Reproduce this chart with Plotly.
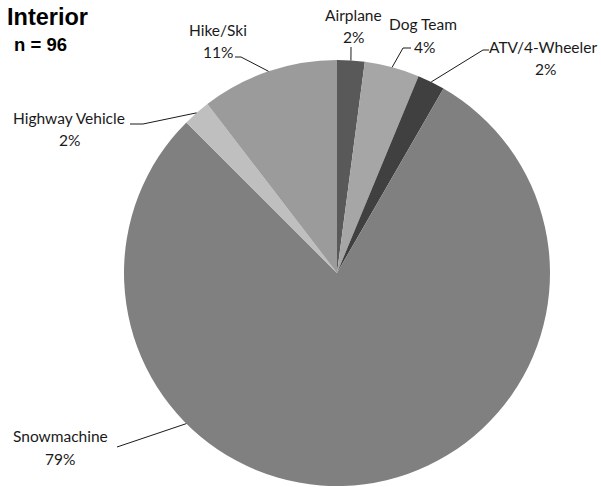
import math
import plotly.graph_objects as go

# ---- data ----
categories = ["Airplane", "Dog Team", "ATV/4-Wheeler", "Snowmachine", "Highway Vehicle", "Hike/Ski"]
counts = [2, 4, 2, 76, 2, 10]
pct_labels = ["2%", "4%", "2%", "79%", "2%", "11%"]
colors = ["#595959", "#a6a6a6", "#404040", "#808080", "#bfbfbf", "#9b9b9b"]

W, H = 601, 487
CX, CY, R = 337, 273, 213

def px(x):
    return x / W

def py(y):
    return 1 - y / H

fig = go.Figure(go.Pie(
    labels=categories, values=counts, sort=False, direction="clockwise", rotation=0,
    marker=dict(colors=colors, line=dict(width=0)),
    textinfo="none", hoverinfo="label+percent", showlegend=False,
    domain=dict(x=[px(CX - R), px(CX + R)], y=[py(CY + R), py(CY - R)]),
))

# label layout: name centre, pct centre, leader start, elbow x, optional edge angle override
label_pos = {
    "Airplane": dict(name=(353, 15), pct=(353, 37), start=(351, 47), elbow=None, ang=None),
    "Dog Team": dict(name=(423, 24), pct=(424, 47), start=(411, 48), elbow=403, ang=None),
    "ATV/4-Wheeler": dict(name=(543, 47), pct=(545, 69), start=(489, 50), elbow=483, ang=None),
    "Snowmachine": dict(name=(60, 436), pct=(60, 459), start=(117, 447), elbow=None, ang=225),
    "Highway Vehicle": dict(name=(69, 118), pct=(69, 140), start=(130, 124), elbow=143, ang=None),
    "Hike/Ski": dict(name=(218, 30), pct=(218, 52), start=(235, 57), elbow=241, ang=None),
}

total = sum(counts)
cum = 0
annotations = []
shapes = []
font = dict(family="Lato, Carlito, Calibri, sans-serif", size=15.5, color="#1a1a1a")
for cat, v, p in zip(categories, counts, pct_labels):
    mid = (cum + v / 2) / total * 360
    cum += v
    lp = label_pos[cat]
    ang = lp["ang"] if lp["ang"] is not None else mid
    ex = CX + R * math.sin(math.radians(ang))
    ey = CY - R * math.cos(math.radians(ang))
    annotations.append(dict(x=px(lp["name"][0]), y=py(lp["name"][1]), xref="paper", yref="paper",
                            text=cat, showarrow=False, font=font, xanchor="center", yanchor="middle"))
    annotations.append(dict(x=px(lp["pct"][0]), y=py(lp["pct"][1]), xref="paper", yref="paper",
                            text=p, showarrow=False, font=font, xanchor="center", yanchor="middle"))
    sx, sy = lp["start"]
    path = f"M {px(sx)} {py(sy)}"
    if lp["elbow"] is not None:
        path += f" L {px(lp['elbow'])} {py(sy)}"
    path += f" L {px(ex)} {py(ey)}"
    shapes.append(dict(type="path", xref="paper", yref="paper", path=path,
                       line=dict(color="#1a1a1a", width=1)))

annotations.append(dict(x=px(5), y=py(17), xref="paper", yref="paper", text="<b>Interior</b>",
                        showarrow=False, xanchor="left", yanchor="middle",
                        font=dict(family="Liberation Sans, Arial, sans-serif", size=23.5, color="#000000")))
annotations.append(dict(x=px(12), y=py(44), xref="paper", yref="paper", text="<b>n = 96</b>",
                        showarrow=False, xanchor="left", yanchor="middle",
                        font=dict(family="Liberation Sans, Arial, sans-serif", size=18.5, color="#000000")))

fig.update_layout(
    width=W, height=H, margin=dict(l=0, r=0, t=0, b=0),
    paper_bgcolor="white", plot_bgcolor="white",
    annotations=annotations, shapes=shapes,
)

fig.write_html("out.html", config={"displayModeBar": False},
               post_script="document.body.style.margin='0';document.body.style.padding='0';")
